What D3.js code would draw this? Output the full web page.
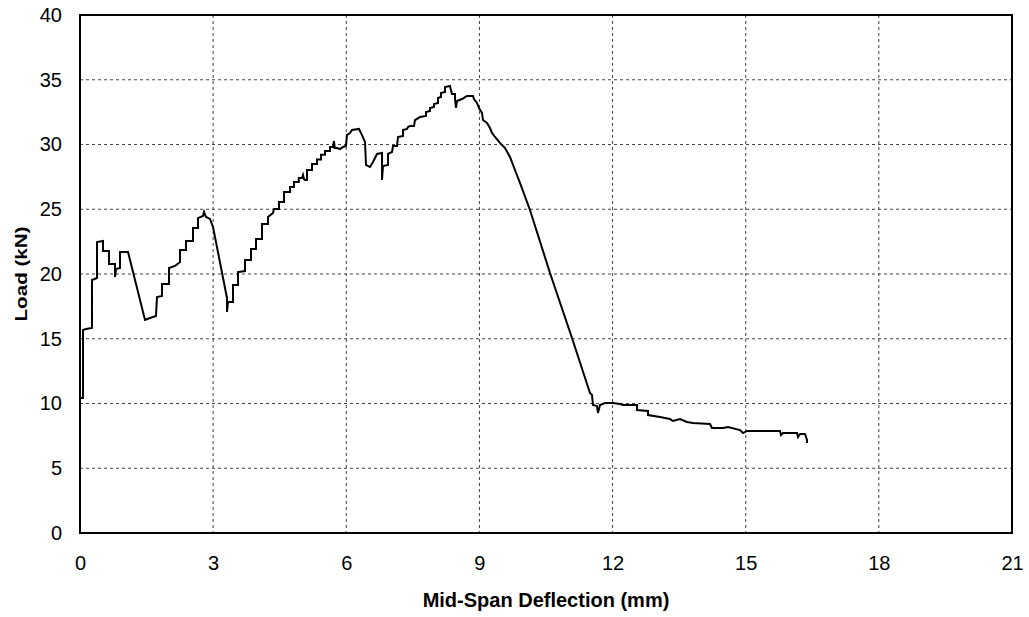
<!DOCTYPE html>
<html>
<head>
<meta charset="utf-8">
<script src="https://cdn.jsdelivr.net/npm/d3@7"></script>
<style>
  body { margin: 0; background: #fff; }
  svg text { font-family: "Liberation Sans", Arial, sans-serif; fill: #000; }
</style>
</head>
<body>
<svg id="chart" width="1029" height="617"></svg>
<script>
// mid-span deflection (mm)
var deflection = [0.02, 0.068, 0.068, 0.135, 0.270, 0.270, 0.383, 0.383, 0.518, 0.518,
  0.653, 0.653, 0.789, 0.789, 0.811, 0.901, 0.901, 1.082, 1.465, 1.577,
  1.712, 1.735, 1.848, 1.848, 2.005, 2.005, 2.141, 2.253, 2.253, 2.388,
  2.388, 2.546, 2.546, 2.659, 2.659, 2.771, 2.794, 2.839, 2.929, 2.997,
  3.312, 3.312, 3.335, 3.447, 3.447, 3.560, 3.560, 3.718, 3.718, 3.853,
  3.853, 3.966, 3.966, 4.101, 4.101, 4.236, 4.236, 4.349, 4.371, 4.484,
  4.484, 4.597, 4.597, 4.732, 4.732, 4.820, 4.820, 4.930, 4.930, 5.002,
  5.025, 5.050, 5.070, 5.115, 5.115, 5.227, 5.227, 5.340, 5.340, 5.430,
  5.430, 5.520, 5.520, 5.633, 5.633, 5.700, 5.723, 5.740, 5.791, 5.858,
  5.926, 5.993, 6.016, 6.083, 6.128, 6.287, 6.354, 6.422, 6.444,
  6.534, 6.602, 6.692, 6.805, 6.805, 6.827, 6.940, 6.940, 7.030, 7.053,
  7.143, 7.165, 7.278, 7.278, 7.368, 7.391, 7.436, 7.526, 7.548, 7.661,
  7.796, 7.796, 7.886, 7.886, 7.976, 7.976, 8.066, 8.066, 8.133, 8.133,
  8.224, 8.224, 8.336, 8.381, 8.449, 8.449, 8.472, 8.494, 8.607, 8.719,
  8.855, 8.877, 8.945, 8.990, 9.058, 9.080, 9.170, 9.238, 9.283, 9.351,
  9.463, 9.576, 9.689, 9.801, 9.914, 10.139, 10.590, 11.086, 11.491, 11.536,
  11.559, 11.649, 11.671, 11.717, 11.829, 12.010, 12.167, 12.235, 12.551, 12.551,
  12.798, 12.798, 13.069, 13.294, 13.361, 13.519, 13.677, 13.812, 14.195, 14.240,
  14.488, 14.600, 14.871, 14.939, 15.029, 15.773, 15.795, 15.840, 16.156, 16.178,
  16.223, 16.336, 16.381, 16.381];

// load (kN), same order
var load = [10.42, 10.42, 15.68, 15.75, 15.83, 19.54, 19.69, 22.47, 22.55, 21.78,
  21.78, 20.77, 20.77, 19.77, 20.39, 20.46, 21.70, 21.70, 16.45, 16.60,
  16.76, 18.22, 18.30, 19.23, 19.23, 20.46, 20.62, 20.93, 21.85, 21.85,
  22.55, 22.55, 23.55, 23.55, 24.32, 24.48, 24.79, 24.40, 24.25, 23.63,
  18.15, 17.07, 17.84, 17.84, 19.15, 19.15, 20.15, 20.23, 21.08, 21.08,
  21.93, 21.93, 22.70, 22.70, 23.86, 23.86, 24.40, 24.71, 25.02, 25.02,
  25.56, 25.56, 26.33, 26.33, 26.72, 26.72, 27.10, 27.10, 27.41, 27.41,
  27.65, 27.30, 27.26, 27.26, 28.03, 28.03, 28.50, 28.50, 28.85, 28.85,
  29.20, 29.20, 29.50, 29.50, 29.80, 29.80, 30.27, 29.73, 29.73, 29.65,
  29.81, 29.88, 30.73, 30.89, 31.12, 31.20, 30.73, 30.19, 28.42,
  28.26, 28.65, 29.27, 29.34, 27.26, 28.34, 28.42, 29.27, 29.42, 29.88,
  29.88, 30.58, 30.66, 31.12, 31.20, 31.35, 31.43, 31.43, 31.89, 32.12,
  32.20, 32.51, 32.59, 32.82, 32.90, 33.13, 33.21, 33.59, 33.67, 33.98,
  34.05, 34.44, 34.52, 33.90, 33.90, 33.51, 32.82, 33.36, 33.51, 33.75,
  33.75, 33.51, 33.21, 32.82, 32.43, 31.89, 31.66, 31.27, 30.89, 30.58,
  30.12, 29.73, 29.04, 28.03, 27.03, 24.94, 20.08, 15.06, 10.81, 10.66,
  9.88, 9.81, 9.27, 9.88, 10.04, 10.04, 9.96, 9.88, 9.88, 9.50,
  9.42, 9.11, 8.96, 8.80, 8.65, 8.80, 8.57, 8.49, 8.42, 8.11,
  8.11, 8.19, 7.95, 7.72, 7.88, 7.88, 7.57, 7.72, 7.72, 7.41,
  7.65, 7.65, 7.18, 6.95];

var xTicks = [0, 3, 6, 9, 12, 15, 18, 21];
var yTicks = [0, 5, 10, 15, 20, 25, 30, 35, 40];

var margin = {top: 15, right: 17, bottom: 84, left: 80};
var svg = d3.select("#chart");
var width = +svg.attr("width") - margin.left - margin.right;
var height = +svg.attr("height") - margin.top - margin.bottom;

var x = d3.scaleLinear().domain([0, 21]).range([0, width]);
var y = d3.scaleLinear().domain([0, 40]).range([height, 0]);

var g = svg.append("g")
  .attr("transform", "translate(" + margin.left + "," + margin.top + ")");

/* rejilla punteada */
g.selectAll(".vgrid")
  .data(xTicks.slice(1, -1))
  .enter().append("line")
  .attr("class", "vgrid")
  .attr("x1", function(d) { return x(d); })
  .attr("x2", function(d) { return x(d); })
  .attr("y1", 0).attr("y2", height)
  .attr("stroke", "#444").attr("stroke-width", 1)
  .attr("stroke-dasharray", "3,3");

g.selectAll(".hgrid")
  .data(yTicks.slice(1, -1))
  .enter().append("line")
  .attr("class", "hgrid")
  .attr("y1", function(d) { return y(d); })
  .attr("y2", function(d) { return y(d); })
  .attr("x1", 0).attr("x2", width)
  .attr("stroke", "#444").attr("stroke-width", 1)
  .attr("stroke-dasharray", "3,3");

// axes, only labels
var xAxis = g.append("g")
  .attr("transform", "translate(0," + height + ")")
  .call(d3.axisBottom(x).tickValues(xTicks).tickSize(0).tickPadding(23));
var yAxis = g.append("g")
  .call(d3.axisLeft(y).tickValues(yTicks).tickSize(0).tickPadding(18));
xAxis.select(".domain").remove();
yAxis.select(".domain").remove();
svg.selectAll(".tick text").style("font-size", "20px").attr("fill", "#000");

// curve
var pts = deflection.map(function(d, i) { return [d, load[i]]; });
var line = d3.line()
  .x(function(d) { return x(d[0]); })
  .y(function(d) { return y(d[1]); });

g.append("path")
  .datum(pts)
  .attr("d", line)
  .attr("fill", "none")
  .attr("stroke", "#000")
  .attr("stroke-width", 2)
  .attr("stroke-linejoin", "miter");

// plot border
g.append("rect")
  .attr("x", 0).attr("y", 0)
  .attr("width", width).attr("height", height)
  .attr("fill", "none")
  .attr("stroke", "#000")
  .attr("stroke-width", 2);

// axis titles
svg.append("text")
  .attr("x", margin.left + width / 2)
  .attr("y", 607)
  .attr("text-anchor", "middle")
  .style("font-size", "20px")
  .style("font-weight", "bold")
  .text("Mid-Span Deflection (mm)");

svg.append("text")
  .attr("transform", "translate(27," + (margin.top + height / 2) + ") rotate(-90)")
  .attr("text-anchor", "middle")
  .style("font-size", "16px")
  .style("font-weight", "bold")
  .attr("textLength", 95)
  .attr("lengthAdjust", "spacingAndGlyphs")
  .text("Load (kN)");
</script>
</body>
</html>
